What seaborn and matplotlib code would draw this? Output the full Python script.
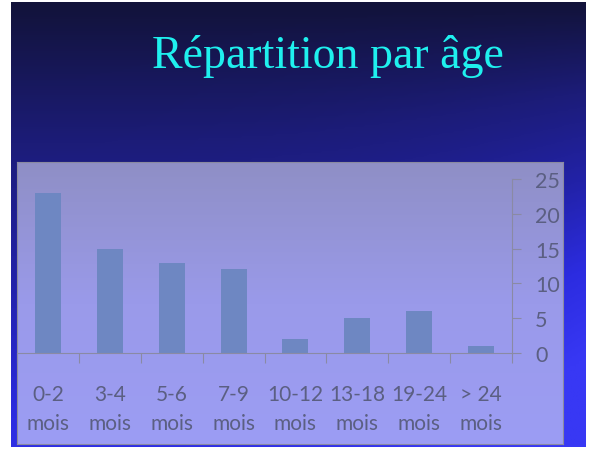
import matplotlib
matplotlib.use("Agg")
import matplotlib.pyplot as plt
import matplotlib.colors as mcolors
import seaborn as sns
import numpy as np
import pandas as pd

# données
categories = ["0-2\nmois", "3-4\nmois", "5-6\nmois", "7-9\nmois",
              "10-12\nmois", "13-18\nmois", "19-24\nmois", "> 24\nmois"]
effectifs = [23, 15, 13, 12, 2, 5, 6, 1]
y_ticks = [0, 5, 10, 15, 20, 25]
titre = "Répartition par âge"

df = pd.DataFrame({"age": categories, "n": effectifs})

sns.set_style("white")
plt.rcParams["font.family"] = ["Lato", "DejaVu Sans"]

W, H = 592, 452
fig = plt.figure(figsize=(W / 100, H / 100), dpi=100)
fig.patch.set_facecolor("white")

def px(x0, y0, x1, y1):
    # rect en pixels (depuis le haut) -> fractions de figure
    return [x0 / W, 1 - y1 / H, (x1 - x0) / W, (y1 - y0) / H]

# fond de la diapo (dégradé bleu)
bg = fig.add_axes(px(11, 3, 586, 448))
v = np.linspace(0, 1, 200)[:, None]
h = np.linspace(0, 1, 200)[None, :]
t = np.clip(0.8 * v + 0.45 * v * h ** 3, 0, 1)
cmap_bg = mcolors.LinearSegmentedColormap.from_list(
    "slide", ["#12133a", "#1c1c78", "#2222a8", "#2c2ce0", "#3838f4"])
bg.imshow(t, cmap=cmap_bg, vmin=0, vmax=1, aspect="auto", extent=[0, 1, 1, 0])
bg.set_axis_off()

bg.text(0.551, 0.879, titre, transform=bg.transAxes, ha="center", va="center",
        fontsize=33, color="#1ff0ee", family="Liberation Serif")

# panneau lavande
panel = fig.add_axes(px(17, 163, 563, 445))
g = np.linspace(0, 1, 100)[:, None] * np.ones((1, 2))
cmap_p = mcolors.LinearSegmentedColormap.from_list("panel", ["#8f8fc6", "#9a9aea", "#9c9df4"])
panel.imshow(g, cmap=cmap_p, aspect="auto", extent=[0, 1, 1, 0])
panel.set_xticks([])
panel.set_yticks([])
for s in panel.spines.values():
    s.set_color("#8a8aa0")
    s.set_linewidth(0.8)

# diagramme en barres
ax = fig.add_axes(px(17, 180, 512, 354))
ax.patch.set_alpha(0)
sns.barplot(data=df, x="age", y="n", color="#6e87c2", width=0.42, saturation=1,
            edgecolor="none", linewidth=0, ax=ax)
ax.set_xlim(-0.5, 7.5)
ax.set_ylim(0, 25)
ax.set_xlabel("")
ax.set_ylabel("")

txt = "#5b5f82"
axc = "#8a8aa4"
ax.yaxis.tick_right()
ax.set_yticks(y_ticks)
ax.tick_params(axis="y", right=True, left=False, length=6.5, width=0.8, color=axc,
               labelsize=15.5, labelcolor=txt, pad=10)
ax.set_xticks(range(len(categories)))
ax.set_xticklabels(categories, linespacing=1.6)
ax.tick_params(axis="x", length=0, labelsize=15, labelcolor=txt, pad=22)
ax.set_xticks(np.arange(-0.5, 8, 1), minor=True)
ax.tick_params(axis="x", which="minor", bottom=True, length=7, width=0.8, color=axc)

for s in ["top", "left"]:
    ax.spines[s].set_visible(False)
ax.spines["bottom"].set_color(axc)
ax.spines["right"].set_color(axc)
ax.spines["bottom"].set_linewidth(0.8)
ax.spines["right"].set_linewidth(0.8)

fig.savefig("out.png", dpi=100)
